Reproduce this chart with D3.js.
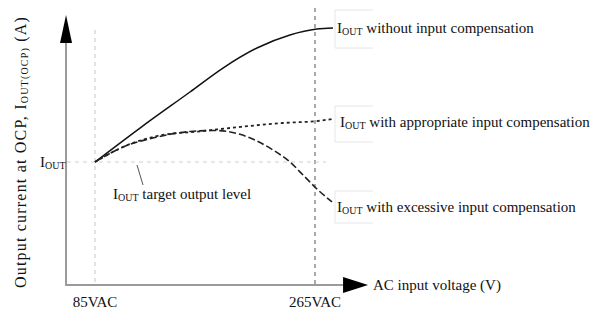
<!DOCTYPE html><html>
<head>
<meta charset="utf-8">
<style>
body { margin: 0; padding: 0; background-color: #ffffff; }
svg { display: block; }
text { font-family: "Liberation Serif", "DejaVu Serif", serif; font-size: 15px; fill: #111; }
.axis { stroke: #9a9a9a; stroke-width: 2px; }
.guide { stroke: #cfcfcf; stroke-width: 1.2px; stroke-dasharray: 4,4; }
.guide.dark { stroke: #555; stroke-dasharray: 4,4; stroke-width: 1px; }
.frame { fill: none; stroke: #e6e6e6; stroke-width: 1px; }
</style>
</head>
<script src="https://cdn.jsdelivr.net/npm/d3@7"></script>
<body>
<svg id="chart" width="595" height="314"></svg>
<script>
// voltage (VAC) vs. current at OCP, normalised so that 1.0 = target I_OUT
var volts_ticks = [85, 265];
var tick_labels = ["85VAC", "265VAC"];

var without_comp = [[85,1.0],[121.8,1.276],[162.7,1.569],[189.7,1.764],[217.5,1.927],[244.5,2.033],[266.6,2.081],[279.7,2.089]];
var appropriate_comp = [[85,1.0],[107.9,1.122],[135.7,1.211],[173.4,1.252],[203.6,1.285],[238.8,1.317],[266.6,1.333],[279.7,1.350]];
var excessive_comp = [[85,1.0],[107.9,1.122],[135.7,1.203],[162.7,1.248],[183.2,1.256],[203.6,1.225],[230.6,1.098],[244.5,1.0],[256.8,0.878],[267.5,0.772],[278.9,0.675]];

var series_names = ["without input compensation", "with appropriate input compensation", "with excessive input compensation"];

var svg = d3.select("svg#chart");
var x = d3.scaleLinear().domain([85, 265]).range([95, 315]);
var y = d3.scaleLinear().domain([0, 1]).range([285, 162]);

var x0 = x(61.3), xEnd = x(308.4);
var y0 = y(0), yTop = y(2.195);

// guide lines
svg.append("line").attr("class", "guide")
    .attr("x1", x(85)).attr("x2", x(85)).attr("y1", 30).attr("y2", y0);
svg.append("line").attr("class", "guide dark")
    .attr("x1", x(265)).attr("x2", x(265)).attr("y1", 8).attr("y2", y0);
svg.append("line").attr("class", "guide")
    .attr("x1", x0 + 1).attr("x2", 326).attr("y1", y(1)).attr("y2", y(1));

// axes
svg.append("line").attr("class", "axis")
    .attr("x1", x0).attr("x2", xEnd - 24).attr("y1", y0).attr("y2", y0);
svg.append("line").attr("class", "axis")
    .attr("x1", x0).attr("x2", x0).attr("y1", y0 + 1).attr("y2", yTop + 26);
svg.append("path")
    .attr("d", "M" + xEnd + "," + y0 + "L" + (xEnd - 25) + "," + (y0 - 8) + "L" + (xEnd - 25) + "," + (y0 + 8) + "Z")
    .attr("fill", "#000");
svg.append("path")
    .attr("d", "M" + x0 + "," + yTop + "L" + (x0 - 6) + "," + (yTop + 28) + "L" + (x0 + 6) + "," + (yTop + 28) + "Z")
    .attr("fill", "#000");

// curves
var line = d3.line().x(d => x(d[0])).y(d => y(d[1])).curve(d3.curveMonotoneX);
svg.append("path").datum(without_comp).attr("d", line)
    .attr("fill", "none").attr("stroke", "#111").attr("stroke-width", 1.5);
svg.append("path").datum(appropriate_comp).attr("d", line)
    .attr("fill", "none").attr("stroke", "#222").attr("stroke-width", 1.8).attr("stroke-dasharray", "3,3");
svg.append("path").datum(excessive_comp).attr("d", line)
    .attr("fill", "none").attr("stroke", "#222").attr("stroke-width", 1.6).attr("stroke-dasharray", "7,3");

// label helper: I with OUT subscript followed by text
function iout(g, px, py, rest, sub) {
    var t = g.append("text").attr("x", px).attr("y", py);
    t.append("tspan").text("I");
    t.append("tspan").attr("font-size", "10px").attr("dy", 2).text(sub || "OUT");
    t.append("tspan").attr("dy", -2).text(rest);
    return t;
}

// faint text frames
[[335, 10, 38, 38], [335, 106, 38, 36], [335, 191, 38, 32]].forEach(function (f) {
    svg.append("path").attr("class", "frame")
        .attr("d", "M" + (f[0] + f[2]) + "," + f[1] + "H" + f[0] + "V" + (f[1] + f[3]) + "H" + (f[0] + f[2]));
});

var lastX = [without_comp, appropriate_comp, excessive_comp].map(s => s[s.length - 1]);
iout(svg, 337, y(lastX[0][1]) + 5, " " + series_names[0]);
iout(svg, 340, y(lastX[1][1]) + 8, " " + series_names[1]);
iout(svg, 337, y(lastX[2][1]) + 10, " " + series_names[2]);

// target label and leader
svg.append("line").attr("x1", 137).attr("y1", 165).attr("x2", 143).attr("y2", 185)
    .attr("stroke", "#555").attr("stroke-width", 1);
iout(svg, 113, 199, " target output level");

// tick labels
iout(svg, 40, y(1) + 5, "");
svg.selectAll("text.tick").data(volts_ticks).enter().append("text")
    .attr("class", "tick")
    .attr("x", d => x(d)).attr("y", 307)
    .attr("text-anchor", "middle")
    .text((d, i) => tick_labels[i]);

// axis titles
svg.append("text").attr("x", 373).attr("y", 290).text("AC input voltage (V)");
var yl = svg.append("text").attr("transform", "translate(26,152) rotate(-90)")
    .attr("text-anchor", "middle").style("font-size", "16px").style("letter-spacing", "1.2px");
yl.append("tspan").text("Output current at OCP, I");
yl.append("tspan").attr("font-size", "10px").attr("dy", 2).text("OUT(OCP)");
yl.append("tspan").attr("dy", -2).text("  (A)");
</script>
</body>
</html>
